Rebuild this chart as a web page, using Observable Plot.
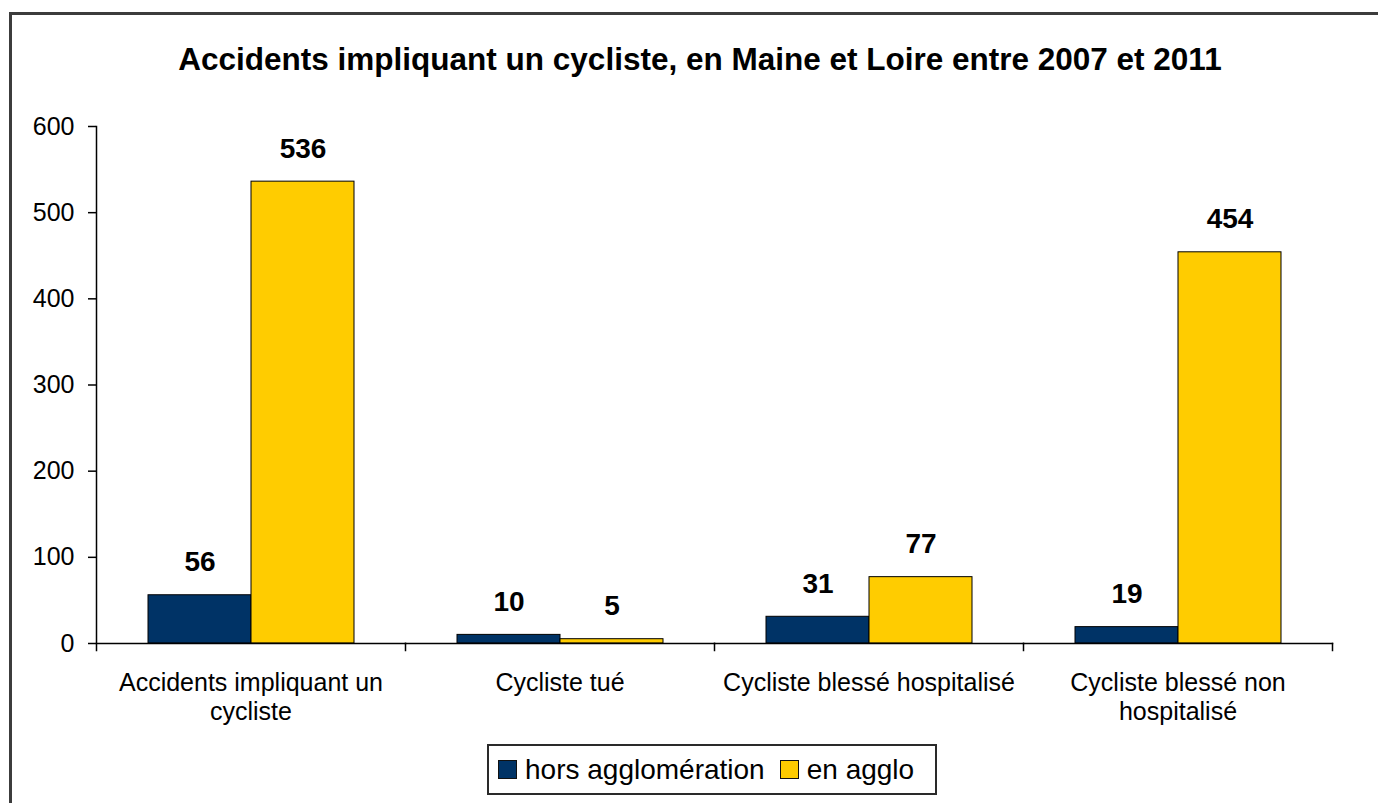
<!DOCTYPE html>
<html>
<head>
<meta charset="utf-8">
<script src="https://cdn.jsdelivr.net/npm/d3@7"></script>
<script src="https://cdn.jsdelivr.net/npm/@observablehq/plot@0.6"></script>
<style>
  html, body { margin: 0; padding: 0; background: #fff; overflow: hidden; }
  body { width: 1378px; height: 803px; position: relative; font-family: 'Liberation Sans', Arial, sans-serif; color: #000; }
  #border { position: absolute; left: 9px; top: 12px; width: 1420px; height: 840px; border: 3px solid #3c3c3c; box-sizing: border-box; }
  #title { position: absolute; left: 0; top: 42px; width: 1400px; text-align: center; font-weight: bold; font-size: 31.5px; line-height: 34px; white-space: nowrap; }
  #chart { position: absolute; left: 0; top: 100px; }
  #legend { position: absolute; left: 487px; top: 744px; width: 450px; height: 51px; border: 2px solid #2a2a2a; box-sizing: border-box; display: flex; align-items: center; padding-left: 9px; font-size: 28px; white-space: nowrap; }
  .sw { display: inline-block; width: 17px; height: 17px; border: 1.5px solid #111; margin-right: 8px; }
  .item { display: flex; align-items: center; margin-right: 15px; }
</style>
</head>
<body>
<div id="border"></div>
<div id="title">Accidents impliquant un cycliste, en Maine et Loire entre 2007 et 2011</div>
<div id="chart"></div>
<div id="legend"></div>
<script>
const categories = ["Accidents impliquant un cycliste", "Cycliste tué", "Cycliste blessé hospitalisé", "Cycliste blessé non hospitalisé"];
const categoryLabels = ["Accidents impliquant un\ncycliste", "Cycliste tué", "Cycliste blessé hospitalisé", "Cycliste blessé non\nhospitalisé"];
const series = ["hors agglomération", "en agglo"];
const horsValues = [56, 10, 31, 19];
const enAggloValues = [536, 5, 77, 454];
const seriesColors = ["#003366", "#FFCC00"];
const yTicks = [0, 100, 200, 300, 400, 500, 600];

const rows = [];
categories.forEach((c, i) => {
  rows.push({category: c, series: series[0], value: horsValues[i]});
  rows.push({category: c, series: series[1], value: enAggloValues[i]});
});
const labelOf = new Map(categories.map((c, i) => [c, categoryLabels[i]]));

const plotHeight = 633, mTop = 26, mBottom = 90;
const innerH = plotHeight - mTop - mBottom;

const chart = Plot.plot({
  width: 1378,
  height: plotHeight,
  marginTop: mTop,
  marginRight: 46,
  marginBottom: mBottom,
  marginLeft: 95,
  style: {fontFamily: "'Liberation Sans', Arial, sans-serif", fontSize: "25px", color: "#000", background: "transparent", overflow: "visible"},
  fx: {domain: categories, padding: 0, label: null},
  x: {domain: series, paddingInner: 0, paddingOuter: 0.487, axis: null},
  y: {domain: [0, 600]},
  color: {domain: series, range: seriesColors},
  marks: [
    Plot.barY(rows, {fx: "category", x: "series", y: "value", fill: "series", stroke: "#000", strokeWidth: 1}),
    Plot.text(rows, {fx: "category", x: "series", y: "value", text: d => String(d.value), dy: -24, lineAnchor: "bottom", fontSize: 28, fontWeight: "bold", fill: "#000"}),
    Plot.frame({anchor: "bottom", stroke: "#000", strokeWidth: 1.5}),
    Plot.frame({anchor: "right", stroke: "#000", strokeWidth: 1.5, insetTop: innerH, insetBottom: -7}),
    Plot.frame({anchor: "left", stroke: "#000", strokeWidth: 1.5, fx: () => categories[0], insetBottom: -7}),
    Plot.axisY({ticks: yTicks, tickSize: 8, tickPadding: 14, label: null, stroke: "#000", strokeWidth: 1.5, fill: "#000", fontSize: 25}),
    Plot.axisFx({anchor: "bottom", tickSize: 0, tickPadding: 27, tickFormat: d => labelOf.get(d), lineHeight: 1.15, label: null, fill: "#000", fontSize: 25})
  ]
});
document.getElementById("chart").appendChild(chart);

const legend = document.getElementById("legend");
series.forEach((s, i) => {
  const item = document.createElement("div");
  item.className = "item";
  const sw = document.createElement("span");
  sw.className = "sw";
  sw.style.background = seriesColors[i];
  const t = document.createElement("span");
  t.textContent = s;
  item.appendChild(sw);
  item.appendChild(t);
  legend.appendChild(item);
});
</script>
</body>
</html>
